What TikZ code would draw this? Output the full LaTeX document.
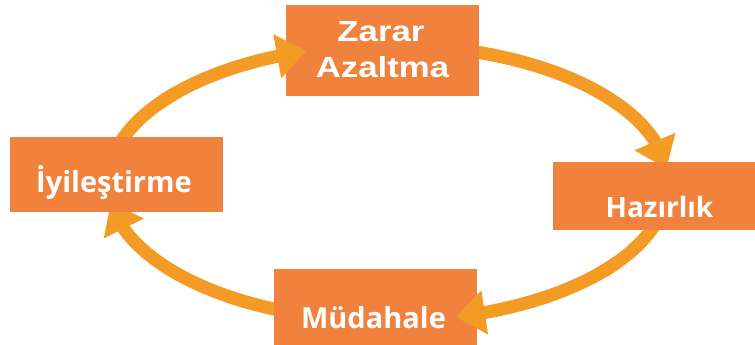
\documentclass[tikz,border=0pt]{standalone}
\usepackage{fontspec}
\usetikzlibrary{arrows.meta,bending,calc}
\newfontfamily\zfont{Liberation Sans}[FakeStretch=1.2]
\newfontfamily\ofont{Open Sans}
\definecolor{boxc}{RGB}{240,130,62}
\definecolor{arrc}{RGB}{244,155,38}
\begin{document}
\begin{tikzpicture}[x=0.75pt,y=0.75pt,
  box/.style={fill=boxc,draw=none,inner sep=0pt,outer sep=0pt},
  ztext/.style={text=white,inner sep=0pt,anchor=base,font=\zfont\bfseries\fontsize{21.75}{26}\selectfont},
  otext/.style={text=white,inner sep=0pt,anchor=base,font=\ofont\bfseries\fontsize{21.75}{26}\selectfont},
  arcline/.style={draw=arrc,line width=9.75pt},
  arr/.style={arcline,-{Triangle[length=22pt,width=32pt,flex]}}]
\useasboundingbox (0,0) rectangle (755,345);
\coordinate (O) at (388,162);
% arcs passing under the boxes
\draw[arr] ($(O)+(75:280 and 138)$) arc[start angle=75,end angle=6,x radius=280,y radius=138];
\draw[arr] ($(O)+(-110:280 and 138)$) arc[start angle=-110,end angle=-172,x radius=280,y radius=138];
\draw[arcline] ($(O)+(165:280 and 138)$) arc[start angle=165,end angle=140,x radius=280,y radius=138];
\draw[arcline] ($(O)+(-15:280 and 138)$) arc[start angle=-15,end angle=-40,x radius=280,y radius=138];
% boxes
\node[box,minimum width=144.75pt,minimum height=68.25pt] (zb) at (382.5,294.5) {};
\node[box,minimum width=151.5pt,minimum height=51pt] (hb) at (654,149) {};
\node[box,minimum width=152.25pt,minimum height=57pt] (mb) at (375.5,38) {};
\node[box,minimum width=159.75pt,minimum height=56.25pt] (ib) at (116.5,170.5) {};
% texts
\node[ztext] (zt1) at (381,303) {Zarar};
\node[ztext] (zt2) at (382.5,267) {Azaltma};
\node[otext,font=\ofont\bfseries\fontsize{21}{25}\selectfont] (ht) at (659.5,127) {Hazırlık};
\node[otext] (mt) at (373.5,16) {Müdahale};
\node[otext] (it) at (114,152) {İyileştirme};
% arrow heads over the boxes
\draw[arr] ($(O)+(145:280 and 138)$) arc[start angle=145,end angle=107,x radius=280,y radius=138];
\draw[arr] ($(O)+(-35:280 and 138)$) arc[start angle=-35,end angle=-76,x radius=280,y radius=138];
\end{tikzpicture}
\end{document}
